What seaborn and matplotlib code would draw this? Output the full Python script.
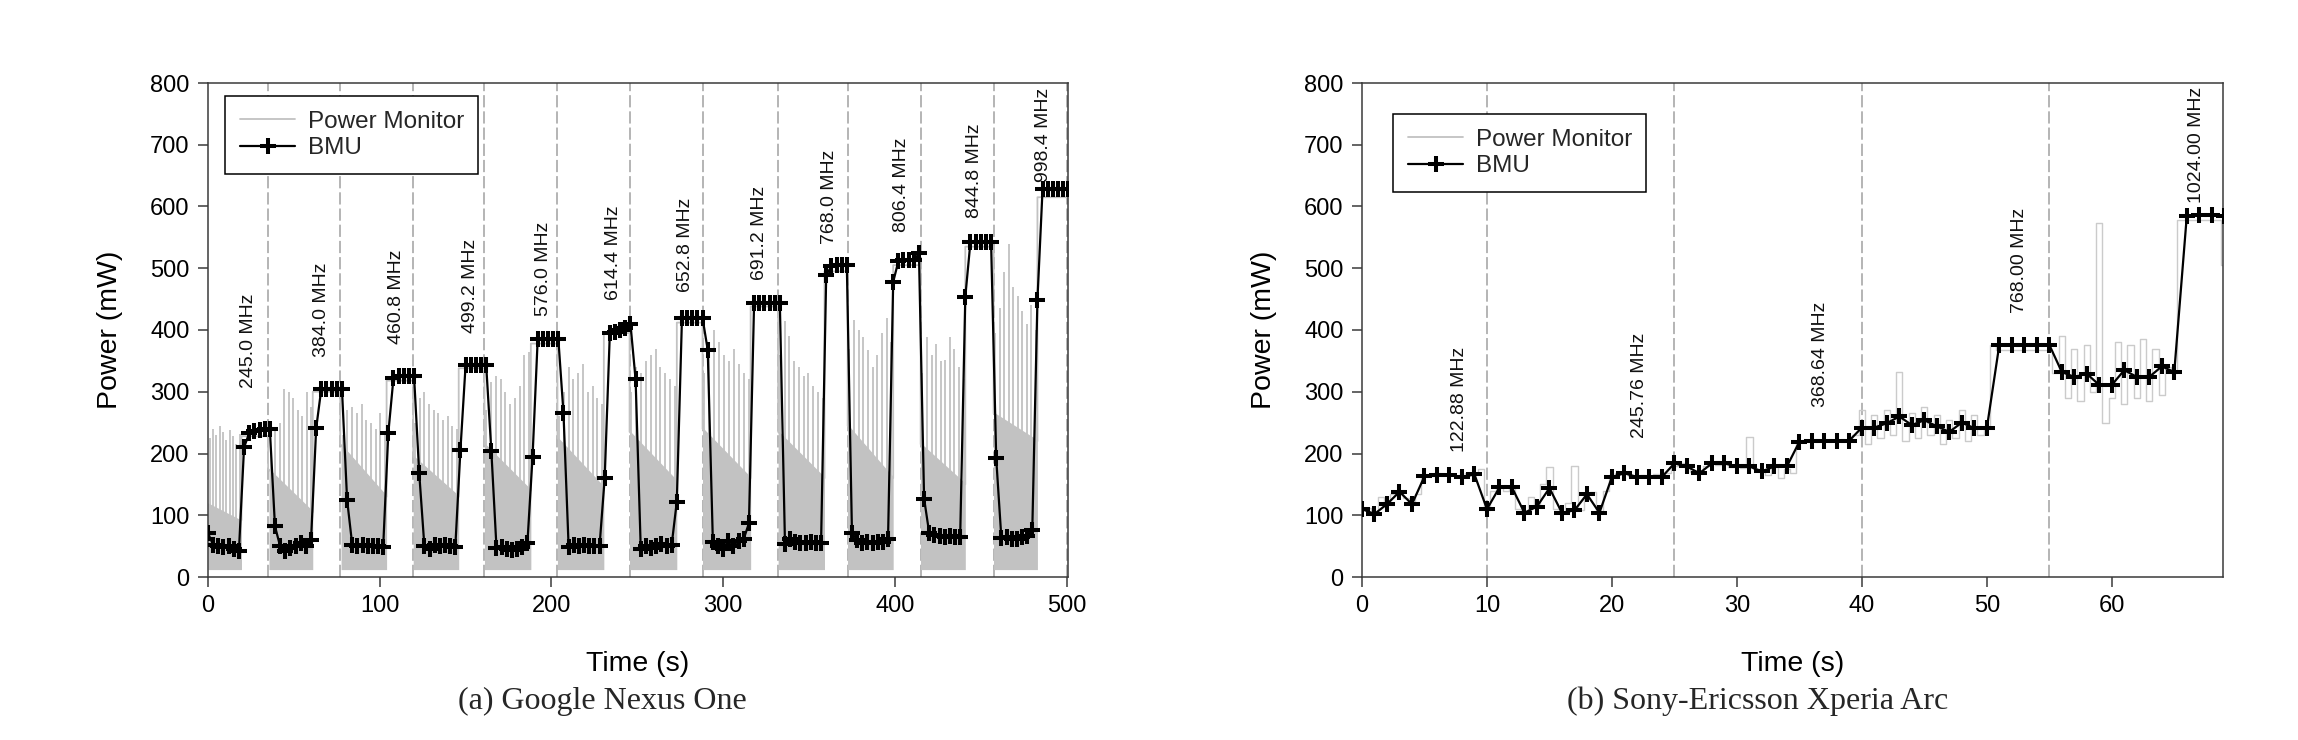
import numpy as np
import matplotlib
matplotlib.use("Agg")
import matplotlib.pyplot as plt
import seaborn as sns

# ---------------- (a) Google Nexus One ----------------
nexus_bmu_step = 3.0          # BMU sampling period (s)
nexus_bmu = [
    71, 52, 50, 48, 50, 45, 42, 210, 233, 236, 238, 240, 240, 82,
    50, 42, 47, 50, 55, 50, 60, 241, 305, 305, 305, 305, 305, 125,
    52, 50, 52, 50, 50, 50, 48, 233, 322, 325, 325, 326, 325, 168,
    50, 45, 52, 50, 52, 50, 48, 206, 343, 343, 343, 343, 343, 204,
    47, 48, 46, 44, 46, 48, 55, 195, 386, 386, 386, 386, 386, 266,
    49, 52, 50, 52, 50, 50, 50, 160, 395, 397, 400, 403, 410, 320,
    46, 50, 47, 50, 54, 50, 52, 122, 419, 419, 419, 419, 419, 368,
    57, 51, 46, 59, 51, 59, 62, 87, 443, 443, 443, 443, 443, 443,
    53, 62, 57, 55, 55, 57, 55, 55, 489, 503, 505, 505, 505, 71,
    60, 55, 57, 55, 57, 57, 62, 478, 511, 513, 513, 513, 524, 127,
    71, 68, 66, 64, 66, 64, 64, 454, 543, 543, 543, 543, 543, 192,
    63, 65, 62, 62, 65, 66, 76, 449, 629, 629, 629, 629, 629, 629,
]
nexus_dash = [35, 77, 119.5, 161, 203.5, 245.5, 288, 332, 372.5, 415, 457.5, 500.5]
nexus_freq = ["245.0 MHz", "384.0 MHz", "460.8 MHz", "499.2 MHz", "576.0 MHz",
              "614.4 MHz", "652.8 MHz", "691.2 MHz", "768.0 MHz", "806.4 MHz",
              "844.8 MHz", "998.4 MHz"]
nexus_label_x = [23.7, 66, 109.7, 153, 195.2, 236, 278.3, 321, 362.2, 404, 446.6, 486.4]
nexus_label_y = [306, 357, 378, 395, 422, 449, 462, 481, 540, 559, 581, 640]
# power-monitor trace: idle phases (dense band + spikes) and loaded plateaus
nexus_low_start = [0, 35.5, 77.5, 119.5, 161, 203.5, 245.5, 288, 332, 372.5, 415, 457.5]
nexus_low_end = [19.5, 61, 104, 146, 188, 230.5, 273, 316, 359, 399, 441, 483]
nexus_band_bottom = 12
nexus_band_top_start = [120, 175, 215, 195, 215, 225, 235, 240, 235, 245, 215, 265]
nexus_band_top_end = [92, 105, 130, 130, 140, 145, 155, 160, 160, 160, 150, 220]
nexus_plateau = [228, 300, 318, 338, 378, 395, 412, 438, 495, 505, 535, 615]
nexus_spikes = [
    [225, 240, 230, 245, 235, 222, 238, 228, 215, 232],
    [200, 240, 250, 305, 300, 290, 270, 260, 300, 275],
    [230, 270, 275, 265, 280, 255, 250, 240, 265, 235],
    [250, 290, 300, 280, 270, 265, 255, 260, 245, 240],
    [270, 315, 325, 320, 300, 280, 290, 310, 360, 365],
    [260, 300, 340, 320, 330, 345, 300, 310, 290, 280],
    [300, 340, 330, 350, 360, 370, 340, 330, 320, 310],
    [330, 370, 400, 380, 360, 350, 370, 345, 330, 320],
    [360, 415, 390, 350, 340, 325, 330, 310, 300, 290],
    [370, 416, 400, 389, 367, 340, 360, 395, 420, 380],
    [330, 389, 360, 378, 350, 351, 389, 370, 340, 320],
    [395, 435, 494, 539, 470, 455, 430, 410, 440, 400],
]

# ---------------- (b) Sony-Ericsson Xperia Arc ----------------
xperia_bmu_step = 1.0
xperia_bmu = [
    110, 102, 118, 138, 118, 163, 165, 165, 162, 166,
    110, 145, 145, 104, 114, 144, 104, 108, 134, 104,
    162, 168, 162, 162, 162, 184, 179, 168, 184, 184,
    179, 179, 171, 179, 179, 219, 221, 221, 221, 221,
    242, 242, 249, 260, 246, 254, 244, 235, 250, 241,
    241, 376, 376, 376, 376, 376, 332, 324, 329, 311,
    311, 335, 324, 324, 341, 332, 584, 586, 586, 584,
]
xperia_pm_step = 0.5
xperia_pm = [
    110, 112, 104, 130, 118, 135, 140, 128, 118, 135,
    165, 163, 168, 165, 166, 163, 165, 168, 166, 175,
    108, 140, 146, 140, 145, 110, 104, 130, 115, 150,
    178, 110, 104, 120, 180, 108, 134, 138, 104, 140,
    165, 168, 170, 163, 162, 165, 162, 166, 162, 168,
    180, 185, 178, 170, 168, 180, 185, 182, 183, 178,
    179, 176, 226, 175, 171, 165, 178, 160, 175, 168,
    218, 222, 220, 221, 220, 222, 220, 221, 220, 230,
    270, 215, 262, 225, 270, 230, 332, 220, 265, 225,
    275, 230, 262, 215, 255, 225, 270, 220, 262, 230,
    245, 375, 368, 368, 368, 368, 368, 368, 368, 368,
    368, 330, 390, 290, 370, 285, 375, 300, 573, 250,
    290, 380, 280, 375, 290, 385, 285, 370, 295, 340,
    330, 578, 578, 578, 578, 578, 578, 578, 505,
]
xperia_dash = [10, 25, 40, 55]
xperia_freq = ["122.88 MHz", "245.76 MHz", "368.64 MHz", "768.00 MHz", "1024.00 MHz"]
xperia_label_x = [7.8, 22.2, 36.7, 52.6, 66.8]
xperia_label_y = [203, 225, 276, 427, 605]

y_ticks = [0, 100, 200, 300, 400, 500, 600, 700, 800]
nexus_xticks = [0, 100, 200, 300, 400, 500]
xperia_xticks = [0, 10, 20, 30, 40, 50, 60]

# ---------------- style ----------------
sns.set_theme(style="ticks")
plt.rcParams["font.family"] = ["Liberation Sans", "DejaVu Sans"]
PM_GRAY = "#c2c2c2"
PM_GRAY_B = "#cbcbcb"
DASH_GRAY = "#a0a0a0"
SPINE = "#3a3a3a"
BMU_KW = dict(color="black", lw=1.6, marker="+", markersize=11,
              markeredgewidth=2.9, markeredgecolor="black", markerfacecolor="black")

fig = plt.figure(figsize=(22.98, 7.40), dpi=100)
ax_a = fig.add_axes([208 / 2298, 1 - 577 / 740, 860 / 2298, 494 / 740])
ax_b = fig.add_axes([1362 / 2298, 1 - 577 / 740, 861 / 2298, 494 / 740])


def style_axes(ax, xticks, xlim):
    ax.set_xlim(*xlim)
    ax.set_ylim(0, 800)
    ax.set_xticks(xticks)
    ax.set_yticks(y_ticks)
    ax.tick_params(direction="out", length=7.2, width=1.1, color=SPINE,
                   labelsize=17, pad=6, labelcolor="black")
    for s in ax.spines.values():
        s.set_visible(True)
        s.set_color(SPINE)
        s.set_linewidth(1.1)
    ax.set_xlabel("Time (s)", fontsize=20.5, color="black")
    ax.set_ylabel("Power (mW)", fontsize=20.5, color="black")
    ax.xaxis.label.set_va("center")
    ax.yaxis.label.set_va("center")
    ax.xaxis.set_label_coords(0.5, (577 - 664) / 494)
    ax.yaxis.set_label_coords(-0.114, 0.5)


def freq_labels(ax, xs, ys, labels):
    for x, y, lab in zip(xs, ys, labels):
        ax.text(x, y, lab, rotation=90, ha="center", va="bottom",
                fontsize=14, color="#111111", zorder=5)


def dashed(ax, xs):
    for x in xs:
        ax.axvline(x, color=DASH_GRAY, lw=1.1, dashes=(8, 2.6), zorder=1)


# ---------------- panel (a) ----------------
ax = ax_a
dashed(ax, nexus_dash)
for k in range(len(nexus_low_start)):
    s, e = nexus_low_start[k], nexus_low_end[k]
    ax.fill_between([s, e], nexus_band_bottom,
                    [nexus_band_top_start[k], nexus_band_top_end[k]],
                    color=PM_GRAY, lw=0, zorder=2)
    st = np.linspace(s + 1.0, e - 1.0, len(nexus_spikes[k]))
    ax.vlines(st, nexus_band_bottom, nexus_spikes[k], color=PM_GRAY, lw=1.3, zorder=2)
# connected power-monitor plateau trace
pm_x, pm_y = [], []
for k in range(len(nexus_plateau)):
    pm_x += [nexus_low_end[k], nexus_low_end[k], nexus_dash[k], nexus_dash[k]]
    nxt = nexus_band_top_start[k + 1] if k + 1 < len(nexus_plateau) else nexus_plateau[k]
    pm_y += [nexus_band_top_end[k], nexus_plateau[k], nexus_plateau[k], nxt]
sns.lineplot(x=pm_x, y=pm_y, ax=ax, color=PM_GRAY, lw=1.3, sort=False,
             estimator=None, zorder=2)
t_a = np.arange(len(nexus_bmu)) * nexus_bmu_step
sns.lineplot(x=t_a, y=nexus_bmu, ax=ax, estimator=None, zorder=4, **BMU_KW)
freq_labels(ax, nexus_label_x, nexus_label_y, nexus_freq)
style_axes(ax, nexus_xticks, (0, 500.8))

# ---------------- panel (b) ----------------
ax = ax_b
dashed(ax, xperia_dash)
t_pm = np.arange(len(xperia_pm)) * xperia_pm_step
sns.lineplot(x=t_pm, y=xperia_pm, ax=ax, color=PM_GRAY_B, lw=1.0,
             drawstyle="steps-mid", estimator=None, zorder=2)
t_b = np.arange(len(xperia_bmu)) * xperia_bmu_step
sns.lineplot(x=t_b, y=xperia_bmu, ax=ax, estimator=None, zorder=4, **BMU_KW)
freq_labels(ax, xperia_label_x, xperia_label_y, xperia_freq)
style_axes(ax, xperia_xticks, (0, 68.9))

# ---------------- legends ----------------
for ax, anchor in ((ax_a, (17 / 860, (577 - 96) / 494)),
                   (ax_b, (31 / 861, (577 - 114) / 494))):
    pm_handle = matplotlib.lines.Line2D([], [], color=PM_GRAY, lw=1.3)
    bmu_handle = matplotlib.lines.Line2D([], [], **BMU_KW)
    leg = ax.legend([pm_handle, bmu_handle], ["Power Monitor", "BMU"],
                    loc="upper left", bbox_to_anchor=anchor, borderaxespad=0,
                    fontsize=17.5, frameon=True, fancybox=False, framealpha=1,
                    edgecolor="black", handlelength=2.3, handletextpad=0.5,
                    borderpad=0.6, labelspacing=0.2, numpoints=1)
    leg.get_frame().set_linewidth(1.1)

# ---------------- captions ----------------
fig.text(602 / 2298, 1 - 701 / 740, "(a) Google Nexus One", ha="center", va="center",
         family=["Liberation Serif", "DejaVu Serif"], fontsize=23)
fig.text(1758 / 2298, 1 - 701 / 740, "(b) Sony-Ericsson Xperia Arc", ha="center",
         va="center", family=["Liberation Serif", "DejaVu Serif"], fontsize=23)

fig.savefig("out.png", dpi=100, facecolor="white")
